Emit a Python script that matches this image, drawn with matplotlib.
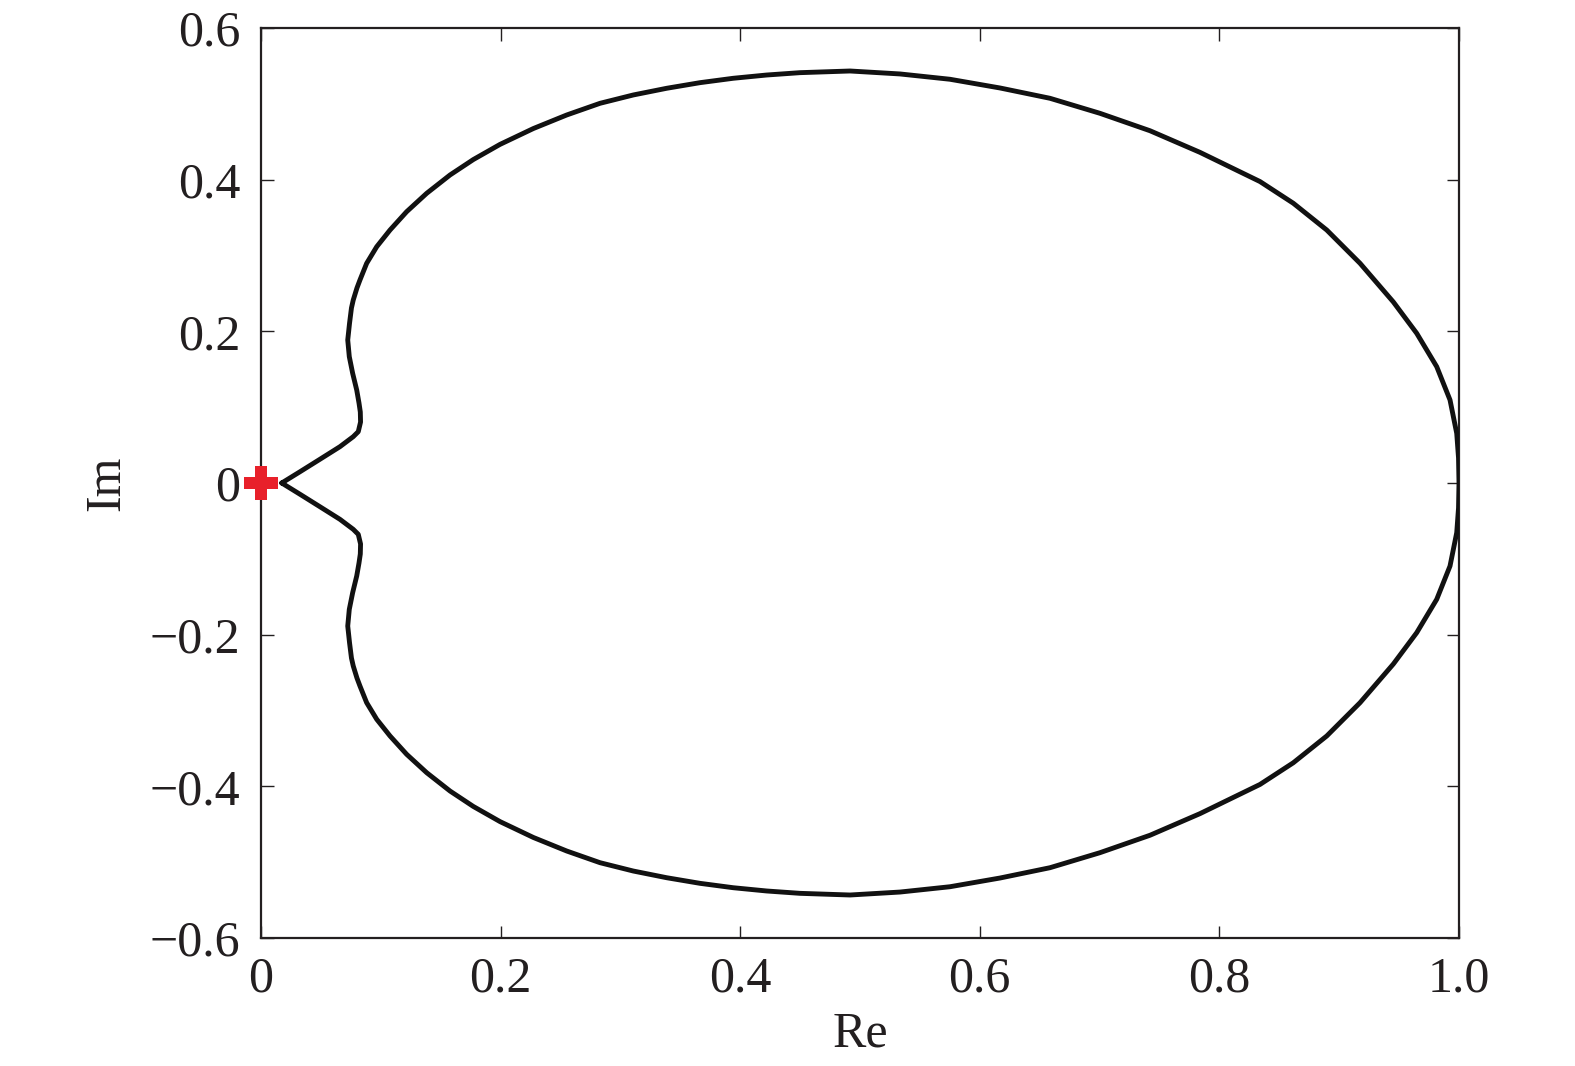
import matplotlib
matplotlib.use("Agg")
import matplotlib.pyplot as plt

# Upper half of the Nyquist curve, from the cusp near the origin to (1, 0)
re_upper = [0.0173, 0.0326, 0.0492, 0.0659, 0.0770, 0.0812, 0.0831, 0.0829, 0.0818, 0.0799,
            0.0765, 0.0737, 0.0724, 0.0739, 0.0755, 0.0770, 0.0801, 0.0826, 0.0882, 0.0966,
            0.1077, 0.1216, 0.1383, 0.1578, 0.1772, 0.1995, 0.2273, 0.2552, 0.2830, 0.3108,
            0.3386, 0.3664, 0.3942, 0.4221, 0.4499, 0.4917, 0.5334, 0.5751, 0.6169, 0.6586,
            0.7003, 0.7421, 0.7838, 0.8339, 0.8617, 0.8896, 0.9174, 0.9452, 0.9647, 0.9814,
            0.9925, 0.9981, 0.9996, 1.0000]
im_upper = [0.0000, 0.0149, 0.0313, 0.0479, 0.0611, 0.0677, 0.0804, 0.0936, 0.1055, 0.1226,
            0.1447, 0.1666, 0.1886, 0.2106, 0.2308, 0.2413, 0.2572, 0.2677, 0.2897, 0.3116,
            0.3336, 0.3578, 0.3820, 0.4062, 0.4265, 0.4465, 0.4674, 0.4853, 0.5007, 0.5117,
            0.5205, 0.5279, 0.5337, 0.5380, 0.5411, 0.5433, 0.5394, 0.5324, 0.5209, 0.5073,
            0.4875, 0.4645, 0.4360, 0.3975, 0.3689, 0.3336, 0.2897, 0.2387, 0.1974, 0.1534,
            0.1095, 0.0655, 0.0330, 0.0000]

# Lower half is the mirror image (negative frequencies)
re_curve = re_upper + re_upper[::-1]
im_curve = im_upper + [-v for v in im_upper[::-1]]

# Critical point marker
point_re = [0.0]
point_im = [0.0]

xticks = [0, 0.2, 0.4, 0.6, 0.8, 1.0]
xticklabels = ["0", "0.2", "0.4", "0.6", "0.8", "1.0"]
yticks = [-0.6, -0.4, -0.2, 0, 0.2, 0.4, 0.6]
yticklabels = ["\u22120.6", "\u22120.4", "\u22120.2", "0", "0.2", "0.4", "0.6"]

plt.rcParams['font.family'] = ['Liberation Serif', 'DejaVu Serif']

fig = plt.figure(figsize=(15.75, 10.66), dpi=100)
ax = fig.add_axes([261/1575, 1 - 938/1066, (1459-261)/1575, (938-28)/1066])

ax.plot(re_curve, im_curve, color="#111111", lw=3.5, solid_joinstyle="round",
        solid_capstyle="round", zorder=3)
ax.plot(point_re, point_im, marker="P", color="#E8202A", markersize=25,
        markeredgewidth=0, linestyle="none", zorder=4, clip_on=False)

ax.set_xlim(0, 1.0)
ax.set_ylim(-0.6, 0.6)
ax.set_xticks(xticks)
ax.set_xticklabels(xticklabels)
ax.set_yticks(yticks)
ax.set_yticklabels(yticklabels)

ax.tick_params(direction="in", length=9, width=1.0, labelsize=36, pad=15,
               top=True, right=True, colors="#231f20")
ax.tick_params(axis="x", pad=13)
for s in ax.spines.values():
    s.set_linewidth(1.6)
    s.set_color("#231f20")

ax.set_xlabel("Re", fontsize=36, labelpad=6, color="#231f20")
ax.set_ylabel("Im", fontsize=36, labelpad=14, color="#231f20")

fig.savefig("out.png", dpi=100)
